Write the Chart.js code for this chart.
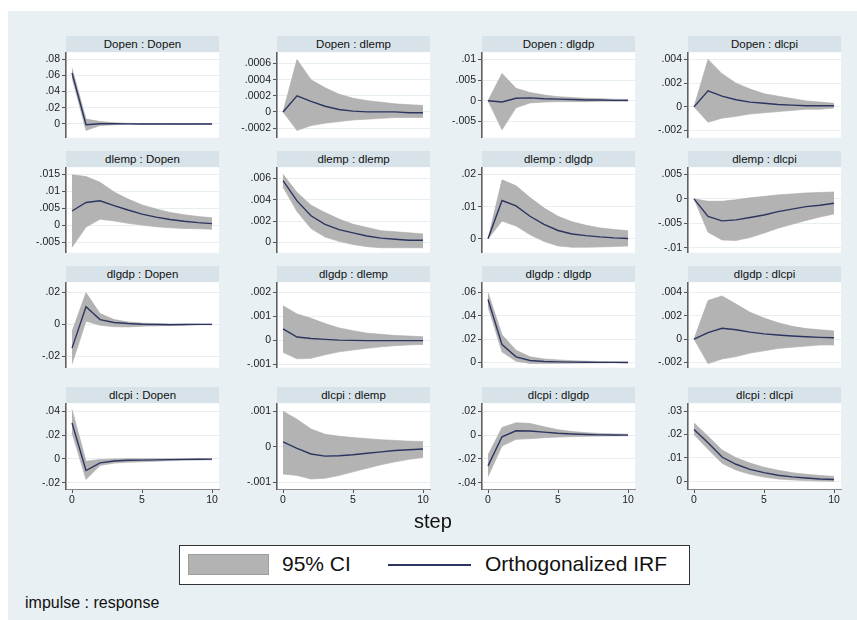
<!DOCTYPE html>
<html><head><meta charset="utf-8">
<script src="https://cdn.jsdelivr.net/npm/chart.js@4.4.0/dist/chart.umd.min.js"></script>
<style>
html,body{margin:0;padding:0;background:#fff;width:857px;height:620px;overflow:hidden;font-family:Arial,"Liberation Sans",sans-serif;}
#bg{position:absolute;left:8px;top:11px;width:849px;height:609px;background:#e9f0f3;}
.ttl{position:absolute;height:16px;line-height:16px;background:#d7e3e9;text-align:center;font-size:11.5px;color:#111;white-space:nowrap;}
canvas{position:absolute;}
.txt{position:absolute;color:#111;white-space:nowrap;}
#legend{position:absolute;left:179px;top:545px;width:509px;height:38px;background:#fff;border:1px solid #333;}
</style></head><body>
<div id="bg"></div>
<div id="wrap"></div>
<div class="txt" style="left:414px;top:510px;font-size:20px;">step</div>
<div id="legend">
  <div style="position:absolute;left:8px;top:8px;width:81px;height:21px;background:#b3b3b3;border:1px solid #9e9e9e;box-sizing:border-box;"></div>
  <div class="txt" style="left:102px;top:6px;font-size:21px;">95% CI</div>
  <div style="position:absolute;left:208px;top:18px;width:83px;height:2px;background:#2c3560;"></div>
  <div class="txt" style="left:305px;top:6px;font-size:21px;">Orthogonalized IRF</div>
</div>
<div class="txt" style="left:25px;top:594px;font-size:16px;">impulse : response</div>
<script>
const vars = ['Dopen','dlemp','dlgdp','dlcpi'];
const steps = [0,1,2,3,4,5,6,7,8,9,10];
const xTicks = [0,5,10];

// impulse Dopen
const irf_Dopen_Dopen = [0.063,-0.001,0.0003,0.0002,0.0001,0,0,0,0,0,0];
const lo_Dopen_Dopen  = [0.057,-0.008,-0.002,-0.001,-0.0005,-0.0003,-0.0002,-0.0001,-0.0001,0,0];
const hi_Dopen_Dopen  = [0.069,0.006,0.003,0.0015,0.0008,0.0005,0.0003,0.0002,0.0001,0.0001,0.0001];
const yt_Dopen_Dopen  = [0,0.02,0.04,0.06,0.08];
const yr_Dopen_Dopen  = [-0.017,0.0886];

const irf_Dopen_dlemp = [0,0.0002,0.00013,0.00007,0.00003,0.00001,0,0,0,-0.00001,-0.00001];
const lo_Dopen_dlemp  = [0,-0.00023,-0.00017,-0.00014,-0.00012,-0.0001,-0.00009,-0.00008,-0.00007,-0.00007,-0.00007];
const hi_Dopen_dlemp  = [0,0.00065,0.0004,0.0003,0.00022,0.00017,0.00014,0.00012,0.0001,0.00009,0.00008];
const yt_Dopen_dlemp  = [-0.0002,0,0.0002,0.0004,0.0006];
const yr_Dopen_dlemp  = [-0.00032,0.00074];

const irf_Dopen_dlgdp = [0,-0.0003,0.0006,0.0007,0.0005,0.0004,0.0003,0.0002,0.0002,0.0001,0.0001];
const lo_Dopen_dlgdp  = [0,-0.007,-0.0017,-0.0005,-0.0003,-0.0002,-0.0002,-0.0002,-0.0001,-0.0001,-0.0001];
const hi_Dopen_dlgdp  = [0,0.0066,0.003,0.002,0.0014,0.001,0.0008,0.0006,0.0005,0.0004,0.0003];
const yt_Dopen_dlgdp  = [-0.005,0,0.005,0.01];
const yr_Dopen_dlgdp  = [-0.0089,0.0117];

const irf_Dopen_dlcpi = [0,0.00136,0.0009,0.0006,0.0004,0.0003,0.0002,0.00015,0.0001,0.0001,0.0001];
const lo_Dopen_dlcpi  = [0,-0.0013,-0.00095,-0.0008,-0.0006,-0.0005,-0.0004,-0.0003,-0.0002,-0.0002,-0.0001];
const hi_Dopen_dlcpi  = [0,0.004,0.0028,0.002,0.0015,0.0011,0.0009,0.0007,0.0005,0.0004,0.0003];
const yt_Dopen_dlcpi  = [-0.002,0,0.002,0.004];
const yr_Dopen_dlcpi  = [-0.0026,0.0046];

// impulse dlemp
const irf_dlemp_Dopen = [0.0042,0.0067,0.0072,0.0058,0.0045,0.0033,0.0024,0.0017,0.0012,0.0008,0.0005];
const lo_dlemp_Dopen  = [-0.0064,-0.0005,0.0018,0.0013,0.0006,0.0001,-0.0004,-0.0007,-0.0009,-0.001,-0.0011];
const hi_dlemp_Dopen  = [0.0148,0.0143,0.0126,0.0098,0.0077,0.006,0.0048,0.0038,0.0031,0.0026,0.0022];
const yt_dlemp_Dopen  = [-0.005,0,0.005,0.01,0.015];
const yr_dlemp_Dopen  = [-0.008,0.017];

const irf_dlemp_dlemp = [0.0058,0.0039,0.0025,0.0017,0.0012,0.0009,0.0006,0.0004,0.0003,0.0002,0.0002];
const lo_dlemp_dlemp  = [0.0052,0.0029,0.0013,0.0005,0.0001,-0.0002,-0.0004,-0.0005,-0.0005,-0.0005,-0.0005];
const hi_dlemp_dlemp  = [0.0064,0.0047,0.0035,0.0028,0.0022,0.0017,0.0014,0.0011,0.001,0.0009,0.0008];
const yt_dlemp_dlemp  = [0,0.002,0.004,0.006];
const yr_dlemp_dlemp  = [-0.00097,0.00706];

const irf_dlemp_dlgdp = [0,0.0119,0.0102,0.007,0.0045,0.0026,0.0015,0.001,0.0006,0.0003,0.0001];
const lo_dlemp_dlgdp  = [0,0.0055,0.004,0.0013,-0.0008,-0.0022,-0.0026,-0.0026,-0.0025,-0.0024,-0.0022];
const hi_dlemp_dlgdp  = [0,0.0183,0.0165,0.0128,0.0096,0.007,0.0053,0.0042,0.0034,0.0029,0.0025];
const yt_dlemp_dlgdp  = [0,0.01,0.02];
const yr_dlemp_dlgdp  = [-0.0043,0.0222];

const irf_dlemp_dlcpi = [0,-0.0036,-0.0045,-0.0043,-0.0038,-0.0033,-0.0026,-0.0021,-0.0016,-0.0013,-0.0009];
const lo_dlemp_dlcpi  = [0,-0.0068,-0.0084,-0.0085,-0.0079,-0.007,-0.006,-0.0052,-0.0044,-0.0037,-0.0031];
const hi_dlemp_dlcpi  = [0,-0.0005,-0.0005,-0.0002,0.0002,0.0005,0.0008,0.001,0.0012,0.0013,0.0014];
const yt_dlemp_dlcpi  = [-0.01,-0.005,0,0.005];
const yr_dlemp_dlcpi  = [-0.011,0.00644];

// impulse dlgdp
const irf_dlgdp_Dopen = [-0.0149,0.011,0.003,0.0012,0.0005,0.0001,-0.0001,-0.0002,-0.0001,0,0];
const lo_dlgdp_Dopen  = [-0.0248,0.002,-0.0005,-0.0015,-0.0016,-0.0012,-0.0009,-0.0007,-0.0005,-0.0003,-0.0002];
const hi_dlgdp_Dopen  = [-0.0045,0.0199,0.0068,0.003,0.0015,0.0008,0.0005,0.0003,0.0002,0.0002,0.0001];
const yt_dlgdp_Dopen  = [-0.02,0,0.02];
const yr_dlgdp_Dopen  = [-0.0272,0.0264];

const irf_dlgdp_dlemp = [0.00048,0.00014,0.00008,0.00004,0.00001,0,-0.00001,-0.00001,-0.00001,-0.00001,-0.00001];
const lo_dlgdp_dlemp  = [-0.0005,-0.00077,-0.00075,-0.0006,-0.00048,-0.0004,-0.00033,-0.00027,-0.00022,-0.00019,-0.00017];
const hi_dlgdp_dlemp  = [0.00144,0.0011,0.00092,0.0007,0.00052,0.0004,0.0003,0.00025,0.0002,0.00018,0.00015];
const yt_dlgdp_dlemp  = [-0.001,0,0.001,0.002];
const yr_dlgdp_dlemp  = [-0.00114,0.00242];

const irf_dlgdp_dlgdp = [0.054,0.0153,0.0048,0.0017,0.0008,0.0005,0.0003,0.0002,0.0001,0.0001,0];
const lo_dlgdp_dlgdp  = [0.0478,0.009,0.0011,-0.0008,-0.001,-0.0008,-0.0006,-0.0005,-0.0004,-0.0003,-0.0003];
const hi_dlgdp_dlgdp  = [0.06,0.0237,0.0105,0.0048,0.003,0.0022,0.0015,0.0011,0.0008,0.0006,0.0004];
const yt_dlgdp_dlgdp  = [0,0.02,0.04,0.06];
const yr_dlgdp_dlgdp  = [-0.0045,0.0688];

const irf_dlgdp_dlcpi = [0,0.00056,0.00093,0.0008,0.0006,0.00045,0.00035,0.00027,0.0002,0.00015,0.00012];
const lo_dlgdp_dlcpi  = [0,-0.0021,-0.0017,-0.0015,-0.0012,-0.001,-0.0008,-0.0007,-0.0006,-0.0005,-0.0005];
const hi_dlgdp_dlcpi  = [0,0.0033,0.0037,0.003,0.0023,0.0018,0.0014,0.0011,0.0009,0.0008,0.0007];
const yt_dlgdp_dlcpi  = [-0.002,0,0.002,0.004];
const yr_dlgdp_dlcpi  = [-0.00245,0.00487];

// impulse dlcpi
const irf_dlcpi_Dopen = [0.0301,-0.0098,-0.0033,-0.0018,-0.0012,-0.001,-0.0008,-0.0006,-0.0004,-0.0003,-0.0002];
const lo_dlcpi_Dopen  = [0.0218,-0.0173,-0.0056,-0.0035,-0.0028,-0.0024,-0.0019,-0.0015,-0.0012,-0.001,-0.0008];
const hi_dlcpi_Dopen  = [0.0414,-0.002,-0.0006,0,0.0002,0.0002,0.0002,0.0002,0.0001,0.0001,0.0001];
const yt_dlcpi_Dopen  = [-0.02,0,0.02,0.04];
const yr_dlcpi_Dopen  = [-0.0253,0.0467];

const irf_dlcpi_dlemp = [0.00014,-0.00004,-0.0002,-0.00026,-0.00025,-0.00022,-0.00018,-0.00014,-0.0001,-0.00008,-0.00006];
const lo_dlcpi_dlemp  = [-0.00076,-0.0008,-0.0009,-0.00088,-0.0008,-0.0007,-0.0006,-0.0005,-0.00042,-0.00035,-0.0003];
const hi_dlcpi_dlemp  = [0.001,0.00077,0.0005,0.00035,0.0003,0.00026,0.00023,0.0002,0.00018,0.00016,0.00015];
const yt_dlcpi_dlemp  = [-0.001,0,0.001];
const yr_dlcpi_dlemp  = [-0.00118,0.00122];

const irf_dlcpi_dlgdp = [-0.0259,-0.0014,0.0036,0.0034,0.0025,0.0015,0.0009,0.0005,0.0002,0.0001,0];
const lo_dlcpi_dlgdp  = [-0.0348,-0.0092,-0.0036,-0.003,-0.0022,-0.0017,-0.0013,-0.001,-0.0008,-0.0007,-0.0006];
const hi_dlcpi_dlgdp  = [-0.0167,0.0064,0.0103,0.0098,0.007,0.0045,0.003,0.002,0.0014,0.001,0.0008];
const yt_dlcpi_dlgdp  = [-0.04,-0.02,0,0.02];
const yr_dlcpi_dlgdp  = [-0.0453,0.0267];

const irf_dlcpi_dlcpi = [0.0222,0.0165,0.0104,0.0073,0.0051,0.0037,0.0026,0.0019,0.0014,0.001,0.0008];
const lo_dlcpi_dlcpi  = [0.02,0.0137,0.0077,0.0048,0.003,0.0018,0.001,0.0006,0.0003,0.0001,0];
const hi_dlcpi_dlcpi  = [0.025,0.0193,0.0134,0.0101,0.0078,0.006,0.0047,0.0037,0.003,0.0025,0.0021];
const yt_dlcpi_dlcpi  = [0,0.01,0.02,0.03];
const yr_dlcpi_dlcpi  = [-0.0033,0.0334];

const DATA = {
  Dopen_Dopen:[irf_Dopen_Dopen,lo_Dopen_Dopen,hi_Dopen_Dopen,yt_Dopen_Dopen,yr_Dopen_Dopen],
  Dopen_dlemp:[irf_Dopen_dlemp,lo_Dopen_dlemp,hi_Dopen_dlemp,yt_Dopen_dlemp,yr_Dopen_dlemp],
  Dopen_dlgdp:[irf_Dopen_dlgdp,lo_Dopen_dlgdp,hi_Dopen_dlgdp,yt_Dopen_dlgdp,yr_Dopen_dlgdp],
  Dopen_dlcpi:[irf_Dopen_dlcpi,lo_Dopen_dlcpi,hi_Dopen_dlcpi,yt_Dopen_dlcpi,yr_Dopen_dlcpi],
  dlemp_Dopen:[irf_dlemp_Dopen,lo_dlemp_Dopen,hi_dlemp_Dopen,yt_dlemp_Dopen,yr_dlemp_Dopen],
  dlemp_dlemp:[irf_dlemp_dlemp,lo_dlemp_dlemp,hi_dlemp_dlemp,yt_dlemp_dlemp,yr_dlemp_dlemp],
  dlemp_dlgdp:[irf_dlemp_dlgdp,lo_dlemp_dlgdp,hi_dlemp_dlgdp,yt_dlemp_dlgdp,yr_dlemp_dlgdp],
  dlemp_dlcpi:[irf_dlemp_dlcpi,lo_dlemp_dlcpi,hi_dlemp_dlcpi,yt_dlemp_dlcpi,yr_dlemp_dlcpi],
  dlgdp_Dopen:[irf_dlgdp_Dopen,lo_dlgdp_Dopen,hi_dlgdp_Dopen,yt_dlgdp_Dopen,yr_dlgdp_Dopen],
  dlgdp_dlemp:[irf_dlgdp_dlemp,lo_dlgdp_dlemp,hi_dlgdp_dlemp,yt_dlgdp_dlemp,yr_dlgdp_dlemp],
  dlgdp_dlgdp:[irf_dlgdp_dlgdp,lo_dlgdp_dlgdp,hi_dlgdp_dlgdp,yt_dlgdp_dlgdp,yr_dlgdp_dlgdp],
  dlgdp_dlcpi:[irf_dlgdp_dlcpi,lo_dlgdp_dlcpi,hi_dlgdp_dlcpi,yt_dlgdp_dlcpi,yr_dlgdp_dlcpi],
  dlcpi_Dopen:[irf_dlcpi_Dopen,lo_dlcpi_Dopen,hi_dlcpi_Dopen,yt_dlcpi_Dopen,yr_dlcpi_Dopen],
  dlcpi_dlemp:[irf_dlcpi_dlemp,lo_dlcpi_dlemp,hi_dlcpi_dlemp,yt_dlcpi_dlemp,yr_dlcpi_dlemp],
  dlcpi_dlgdp:[irf_dlcpi_dlgdp,lo_dlcpi_dlgdp,hi_dlcpi_dlgdp,yt_dlcpi_dlgdp,yr_dlcpi_dlgdp],
  dlcpi_dlcpi:[irf_dlcpi_dlcpi,lo_dlcpi_dlcpi,hi_dlcpi_dlcpi,yt_dlcpi_dlcpi,yr_dlcpi_dlcpi]
};

// layout
const colLeft = [66,277,482,688];
const plotW = 153;
const rowTitleTop = [36,151,266,387];
const titleH = 16, plotH = 86;
const AXW = 50, PADT = 8, PADR = 12, XAXH = 20;

function fmt(v){
  if (Math.abs(v) < 1e-12) return '0';
  let s = String(+v.toPrecision(6));
  return s.replace(/^(-?)0\./,'$1.');
}

const plotBg = {id:'plotBg', beforeDraw(c){const a=c.chartArea, ctx=c.ctx; ctx.save(); ctx.fillStyle='#fff'; ctx.fillRect(a.left,a.top,a.width,a.height); ctx.restore();}};
const FONT = {family:'Arial, "Liberation Sans", sans-serif', size:10.5};
const wrap = document.getElementById('wrap');

vars.forEach((imp,r)=>{
  vars.forEach((resp,c)=>{
    const [irf,lo,hi,yt,yr] = DATA[imp+'_'+resp];
    const L = colLeft[c], T = rowTitleTop[r];
    const t = document.createElement('div');
    t.className='ttl';
    t.style.left=L+'px'; t.style.top=T+'px'; t.style.width=plotW+'px';
    t.textContent = imp+' : '+resp;
    wrap.appendChild(t);
    const last = (r===3);
    const cv = document.createElement('canvas');
    const W = AXW+plotW+PADR, H = PADT+plotH+(last?XAXH:PADT);
    cv.width=W; cv.height=H;
    cv.style.left=(L-AXW)+'px'; cv.style.top=(T+titleH-PADT)+'px';
    cv.style.width=W+'px'; cv.style.height=H+'px';
    wrap.appendChild(cv);
    const pts = a => steps.map((s,i)=>({x:s,y:a[i]}));
    new Chart(cv,{
      type:'line',
      data:{datasets:[
        {label:'upper', data:pts(hi), fill:'+1', backgroundColor:'#b3b3b3', borderColor:'#a6a6a6', borderWidth:0.6, pointRadius:0, tension:0, order:2},
        {label:'lower', data:pts(lo), fill:false, borderColor:'#a6a6a6', borderWidth:0.6, pointRadius:0, tension:0, order:2},
        {label:'Orthogonalized IRF', data:pts(irf), fill:false, borderColor:'#2c3560', borderWidth:1.4, pointRadius:0, tension:0, order:1}
      ]},
      options:{
        responsive:false, animation:false, devicePixelRatio:1,
        layout:{padding:{top:PADT,bottom:last?0:PADT,left:0,right:PADR}},
        plugins:{legend:{display:false},tooltip:{enabled:false}},
        scales:{
          x:{type:'linear', min:-0.43, max:10.5, display:last,
             afterBuildTicks:s=>{s.ticks=xTicks.map(v=>({value:v}));},
             afterFit:s=>{ if (last) s.height=XAXH; else s.height=0; },
             ticks:{font:FONT,color:'#222',padding:1,maxRotation:0,callback:v=>String(v)},
             grid:{drawOnChartArea:false,drawTicks:true,tickLength:4,tickColor:'#555',color:'#555'},
             border:{display:true,color:'#8a8a8a',width:1}},
          y:{type:'linear', min:yr[0], max:yr[1],
             afterBuildTicks:s=>{s.ticks=yt.map(v=>({value:v}));},
             afterFit:s=>{s.width=AXW;},
             ticks:{font:FONT,color:'#222',padding:2,callback:v=>fmt(v)},
             grid:{color:'#e8eff2',lineWidth:1,drawTicks:true,tickLength:4,tickColor:'#555'},
             border:{display:true,color:'#606060',width:1.6}}
        }
      },
      plugins:[plotBg]
    });
  });
});
</script>
</body></html>
